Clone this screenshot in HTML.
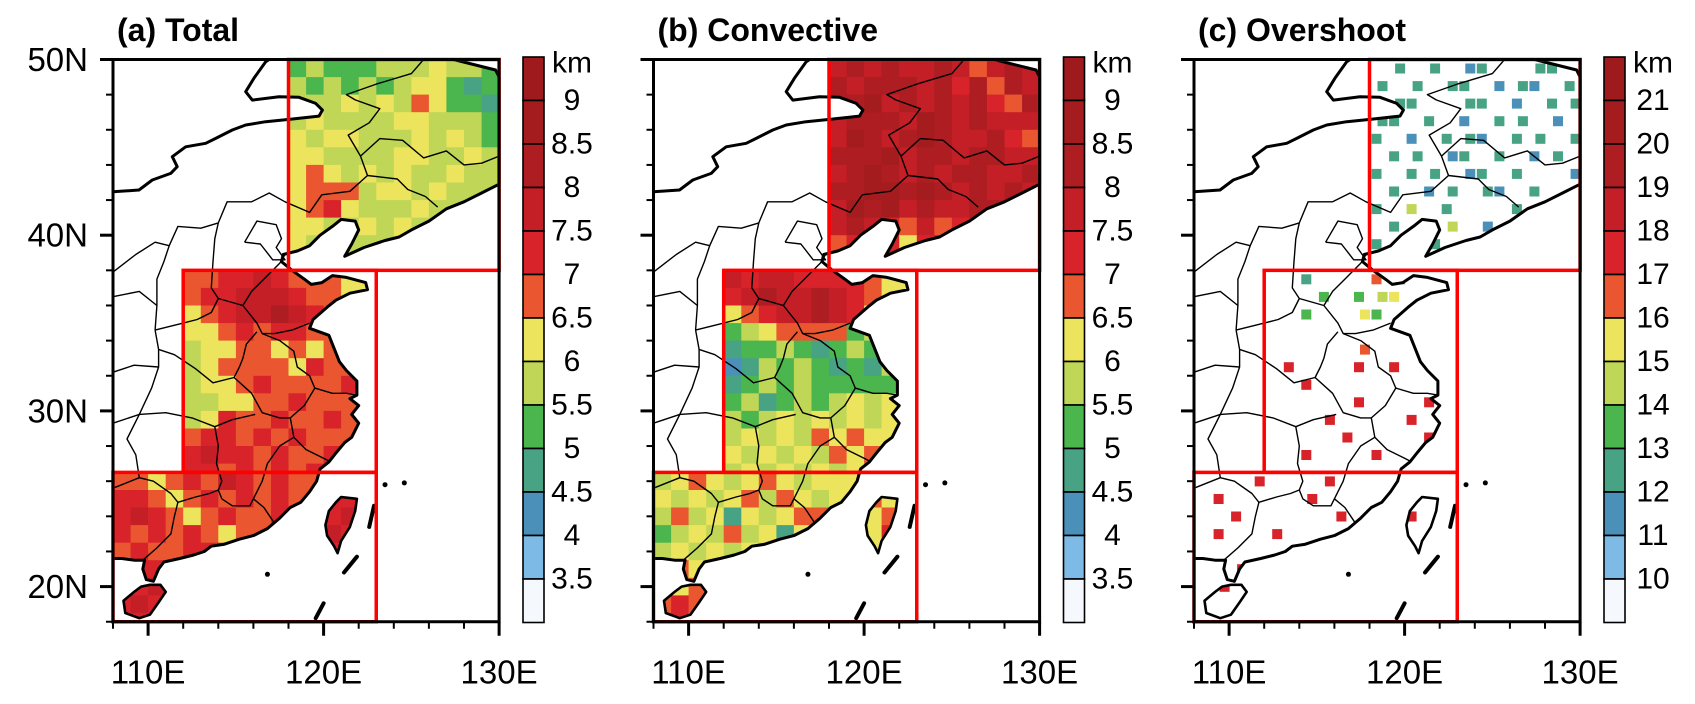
<!DOCTYPE html>
<html><head><meta charset="utf-8"><title>Cloud top heights</title>
<style>
html,body{margin:0;padding:0;background:#fff;}
svg{display:block;font-family:"Liberation Sans",Arial,sans-serif;}
</style></head>
<body>
<svg id="fig" width="1695" height="704" viewBox="0 0 1695 704" xmlns="http://www.w3.org/2000/svg">
<defs><clipPath id="land" clipPathUnits="userSpaceOnUse"><path id="landpath" d=""/></clipPath></defs>
</svg>
<script>
// ---- data: class index per 1x1 degree cell (0..c), rows north->south, cols west->east ----
const palette = ['#f5f9fd','#7dbbe6','#4a90b8','#48a384','#4bb54e','#bfd656','#ece45c','#e9562f','#d8232b','#c41e26','#ad1d21','#a51c1f','#9e1a1c'];
const kmLabels = ['9','8.5','8','7.5','7','6.5','6','5.5','5','4.5','4','3.5'];
const overLabels = ['21','20','19','18','17','16','15','14','13','12','11','10'];
const latTicks = [50,40,30,20];
const lonTicks = [110,120,130];

const totalBox1 = ["454445556554","545454566434","555656576443","565555665554","656655565654","665555665565","676565655655","677756656555","678655565555","665565655555","656555655555","665555555555"];
const totalBox2 = ["77889877766","78899987766","67899a98776","66787887766","56677676766","56777768776","56678777786","55667787777","56877877877","78878787777","89887877877","88787878777"];
const totalBox3 = ["776787987877777","887678787877887","898767877877897","878787677877987","787788878777887","888877777777777","889977777777777","898877777777777","888877777777777"];

const convBox1 = ["9a9a99a979a9","a9aaa9a8a7a9","aab9a9a9a87a","9aaa9ba9a999","9ba9aba99a87","aaab9aa9aa99","9aba9a9aa99a","aabbaba9a9a9","9bab9a99aa99","9a9879789899","787868989999","676737999999"];
const convBox2 = ["98998888766","89a99a98766","67899a98676","45677774566","34454345456","23545434356","34545444446","45345456566","54565656566","56565767666","65656576766","56565656766"];
const convBox3 = ["567656765666666","656567576566767","575636567766677","456575636766687","565656576666667","676766766666666","667766666666667","787766666666777","787766666666777"];

const overBox1 = ["030302300330","303033023203","033003302033","330302033020","302033203303","033023030230","303302303002","030230320300","305030003200","030350200000","300300000000","000000000000"];
const overBox2 = ["00300074000","00040456000","00400640000","00000000000","00000700000","08000808000","00800000000","00000800080","00080000800","00008000080","00800080000","00000000000"];
const overBox3 = ["000800080000000","080000800000000","008000008000800","080080000000000","000000000000000","008000000000000","080000000000000","000000000000000","080000000000000"];

// ---- geometry ----
const mainland = [[108,42.47],[109.48,42.57],[110.24,43.14],[111.29,43.52],[111.66,43.9],[111.38,44.47],[112.14,45.03],[113.28,45.23],[113.85,45.51],[114.8,45.99],[115.56,46.27],[116.7,46.46],[118.03,46.59],[119.74,46.78],[119.93,47.12],[119.55,47.5],[118.6,47.85],[117.46,47.88],[115.94,47.69],[115.56,48.17],[116.03,48.93],[116.7,49.87],[116.9,50],[127.4,50],[129.8,49.4],[130,49.0],[130,42.9],[129,42.4],[128,41.9],[127,41.5],[126,40.8],[125,40.3],[124.3,39.9],[123.5,39.7],[122.3,39.3],[121.2,38.8],[121.6,39.5],[122,40.3],[121.8,40.8],[121,40.9],[120.5,40.5],[119.8,40.0],[119.2,39.4],[118.5,39.1],[117.7,38.9],[117.6,38.5],[118.2,38],[118.9,37.5],[119.3,37.2],[119.9,37.3],[120.5,37.7],[121.3,37.6],[122.4,37.3],[122.5,36.9],[121.5,36.7],[120.7,36.3],[120.2,35.9],[119.4,35.2],[119.2,34.7],[120.3,34.3],[120.9,32.8],[121.3,32.3],[121.9,31.7],[121.9,30.9],[121.5,30.7],[122.0,30.3],[121.6,29.8],[122.0,29.3],[121.6,28.5],[121.2,28.2],[120.7,27.6],[120.3,27.1],[119.8,26.7],[119.6,26.0],[119.2,25.4],[118.7,24.8],[118.1,24.5],[117.5,23.9],[116.8,23.3],[116.0,22.9],[115.2,22.7],[114.3,22.4],[113.6,22.3],[113.2,22.0],[112.6,21.8],[111.8,21.6],[110.9,21.4],[110.6,21.0],[110.3,20.3],[109.9,20.4],[109.7,21.0],[109.8,21.5],[109.2,21.5],[108.5,21.6],[108,21.6]];
const hainan = [[108.6,19.2],[108.7,18.5],[109.5,18.2],[110.1,18.4],[110.6,19.1],[111.0,19.7],[110.7,20.1],[110.1,20.1],[109.6,20.0],[109.2,19.7]];
const taiwan = [[121.0,25.1],[121.9,25.0],[121.8,24.3],[121.5,23.4],[121.0,22.6],[120.8,21.9],[120.6,22.3],[120.2,22.9],[120.1,23.5],[120.3,24.3],[120.7,24.8]];
const provinces = [
 [[108,37.9],[109.3,38.9],[110.4,39.6],[111.2,39.4],[111.7,40.5],[113.0,40.4],[114.0,40.7],[114.5,41.9],[115.9,41.9],[116.9,42.4],[117.8,41.9],[119.2,41.3],[119.9,42.3],[121.5,42.5],[122.5,43.4],[122.1,44.5],[121.4,45.7],[122.6,46.4],[123.2,47.2],[121.8,47.7],[121.3,48.0],[123.0,48.6],[125.0,49.2],[125.7,50]],
 [[114.0,40.7],[113.8,39.8],[113.7,38.5],[113.6,37.0],[114.0,36.4],[113.6,35.6],[112.8,35.2],[112.0,35.0],[110.4,34.6]],
 [[111.2,39.4],[110.9,38.5],[110.5,37.5],[110.5,36.0],[110.4,34.6]],
 [[114.0,36.4],[115.4,36.0],[115.9,36.8],[116.6,37.5],[117.5,38.4],[117.8,38.9]],
 [[115.5,39.6],[116.2,40.8],[117.3,40.6],[117.6,39.8],[117.3,39.3],[117.8,38.6],[117.1,38.6],[116.4,39.5],[115.5,39.6]],
 [[122.5,43.4],[124.2,43.2],[124.8,42.6],[125.8,42.2],[126.5,41.6]],
 [[122.1,44.5],[123.2,45.5],[124.5,45.4],[125.7,44.4],[127.0,44.8],[128.0,44.0],[129.0,44.1],[130.0,44.5]],
 [[115.4,36.0],[116.2,35.0],[116.5,34.4],[117.2,34.4],[118.2,34.6],[119.2,35.0]],
 [[116.2,34.5],[115.6,33.8],[115.4,33.0],[115.2,32.5],[114.9,31.9],[113.7,31.6],[112.7,32.4],[111.5,33.2],[110.6,33.5],[110.4,34.6]],
 [[116.5,34.4],[117.5,34.0],[118.3,33.4],[118.5,32.5],[119.2,32.0],[119.5,31.3],[120.5,31.0],[121.3,31.0],[121.9,30.9]],
 [[119.5,31.3],[118.9,30.3],[118.1,29.6],[117.5,29.6],[116.5,29.9],[115.9,31.0],[114.9,31.9]],
 [[108,29.3],[109.5,29.8],[111.0,29.9],[112.5,29.6],[113.8,29.1],[114.8,29.5],[116.1,29.8]],
 [[109.5,29.8],[110.2,31.3],[110.6,32.5],[110.6,33.5]],
 [[113.8,29.1],[114.0,28.0],[113.9,27.0],[114.2,26.0],[114.0,25.5],[113.5,25.3],[112.7,25.1],[111.7,24.8],[111.3,25.3],[110.3,26.0],[109.5,26.2],[109.3,27.5],[108.8,28.4],[109.5,29.8]],
 [[118.1,29.6],[118.3,28.5],[117.5,28.0],[116.8,27.0],[116.5,26.0],[116.0,25.0],[115.8,24.6],[114.8,24.6],[114.2,25.0],[114.0,25.5]],
 [[118.3,28.5],[119.0,27.8],[120.0,27.3],[120.4,27.1]],
 [[116.0,25.0],[116.6,24.5],[117.2,23.6]],
 [[111.7,24.8],[111.5,24.0],[111.3,23.0],[110.5,22.2],[109.7,21.5]],
 [[108,25.6],[109.5,26.2]],
 [[108,32.2],[109.2,32.6],[110.6,32.5]],
 [[108,36.5],[109.5,36.8],[110.5,36.0]]
];
const dashes = [[[122.87,24.6],[122.6,23.4]],[[121.9,21.7],[121.16,20.8]],[[120.0,19.05],[119.55,18.2]]];
const dots = [[116.8,20.7],[123.5,25.8],[124.6,25.9]];
const boxGeom = [{lon0:118,lon1:130,lat0:50,lat1:38},{lon0:112,lon1:123,lat0:38,lat1:26.5},{lon0:108,lon1:123,lat0:26.5,lat1:18}];

function X(lon){return 113+(lon-108)*17.55;}
function Y(lat){return 59.5+(50-lat)*17.57;}
const NS='http://www.w3.org/2000/svg';
const svg=document.getElementById('fig');
function mk(tag,attrs,parent){const e=document.createElementNS(NS,tag);for(const k in attrs)e.setAttribute(k,attrs[k]);(parent||svg).appendChild(e);return e;}
function pth(pts,close){return pts.map((p,i)=>(i?'L':'M')+X(p[0]).toFixed(1)+' '+Y(p[1]).toFixed(1)).join('')+(close?'Z':'');}

document.getElementById('landpath').setAttribute('d',pth(mainland,true)+pth(hainan,true)+pth(taiwan,true));

const panels=[
 {ox:0,title:'(a) Total',boxes:[totalBox1,totalBox2,totalBox3],labels:kmLabels,key:'total',sparse:false,latLabels:true},
 {ox:540.5,title:'(b) Convective',boxes:[convBox1,convBox2,convBox3],labels:kmLabels,key:'convective',sparse:false,latLabels:false},
 {ox:1081,title:'(c) Overshoot',boxes:[overBox1,overBox2,overBox3],labels:overLabels,key:'overshoot',sparse:true,latLabels:false}
];

panels.forEach(P=>{
  const g=mk('g',{transform:'translate('+P.ox+',0)'});
  
  
  const t=mk('text',{x:117,y:41,'font-size':32,'font-weight':'bold',fill:'#000'},g);
  t.textContent=P.title;
  
  
  const cells=mk('g',{'clip-path':'url(#land)'},g);
  
  
  P.boxes.forEach((rows,bi)=>{
    const B=boxGeom[bi];
    rows.forEach((row,r)=>{
      for(let c=0;c<row.length;c++){
        const v=parseInt(row[c],16);
        if(P.sparse&&v===0)continue;
        const lon=B.lon0+c, latT=B.lat0-r;
        const sz=P.sparse?10:18.1, off=P.sparse?((c+r)%2?8:2):0;
        const rc=mk('rect',{x:(X(lon)+off).toFixed(1),y:(Y(latT)+(P.sparse?4:0)).toFixed(1),width:sz,height:sz,fill:palette[v]},cells);
        
        
      }
    });
  });
  provinces.forEach(pl=>{
    const p=mk('path',{d:pth(pl,false),fill:'none',stroke:'#000','stroke-width':1.4,'stroke-linejoin':'round'},g);
    
    
  });
  [mainland,hainan,taiwan].forEach((poly,i)=>{
    const p=mk('path',{d:pth(poly,true),fill:'none',stroke:'#000','stroke-width':i?2.6:3,'stroke-linejoin':'round'},g);
    
    
  });
  dashes.forEach(d=>{
    const p=mk('path',{d:pth(d,false),stroke:'#000','stroke-width':4,'stroke-linecap':'round'},g);
    
    
  });
  dots.forEach(d=>{
    const p=mk('circle',{cx:X(d[0]),cy:Y(d[1]),r:2.5,fill:'#000'},g);
    
    
  });
  boxGeom.forEach((B,i)=>{
    const r=mk('rect',{x:X(B.lon0),y:Y(B.lat0),width:X(B.lon1)-X(B.lon0),height:Y(B.lat1)-Y(B.lat0),fill:'none',stroke:'#ff0000','stroke-width':3.5},g);
    
    
  });
  const fr=mk('rect',{x:X(108),y:Y(50),width:X(130)-X(108),height:Y(18)-Y(50),fill:'none',stroke:'#000','stroke-width':3},g);
  
  
  for(let lat=18;lat<=50;lat+=2){
    const major=latTicks.indexOf(lat)>=0;
    const tk=mk('line',{x1:X(108),x2:X(108)-(major?13:7),y1:Y(lat),y2:Y(lat),stroke:'#000','stroke-width':major?3:2},g);
    
    
  }
  if(P.latLabels){
    latTicks.forEach(lat=>{
      const tx=mk('text',{x:88,y:Y(lat),'font-size':33,'text-anchor':'end','dominant-baseline':'central',fill:'#000'},g);
      tx.textContent=lat+'N';
      
      
    });
  }
  for(let lon=108;lon<=130;lon+=2){
    const major=lonTicks.indexOf(lon)>=0;
    const tk=mk('line',{x1:X(lon),x2:X(lon),y1:Y(18),y2:Y(18)+(major?14:7),stroke:'#000','stroke-width':major?3:2},g);
    
    
  }
  lonTicks.forEach(lon=>{
    const tx=mk('text',{x:X(lon),y:672,'font-size':33,'text-anchor':'middle','dominant-baseline':'central',fill:'#000'},g);
    tx.textContent=lon+'E';
    
    
  });
  const cb=mk('g',{},g);
  
  
  const top=57,h=43.5;
  for(let i=0;i<13;i++){
    const r=mk('rect',{x:523,y:top+i*h,width:21,height:h,fill:palette[12-i],stroke:'#000','stroke-width':1.6},cb);
    
    
  }
  const km=mk('text',{x:572,y:63,'font-size':30,'text-anchor':'middle','dominant-baseline':'central',fill:'#000'},cb);
  km.textContent='km';
  
  
  P.labels.forEach((lb,i)=>{
    const tx=mk('text',{x:572,y:top+(i+1)*h,'font-size':30,'text-anchor':'middle','dominant-baseline':'central',fill:'#000'},cb);
    tx.textContent=lb;
    
    
  });
});
</script>
</body></html>
